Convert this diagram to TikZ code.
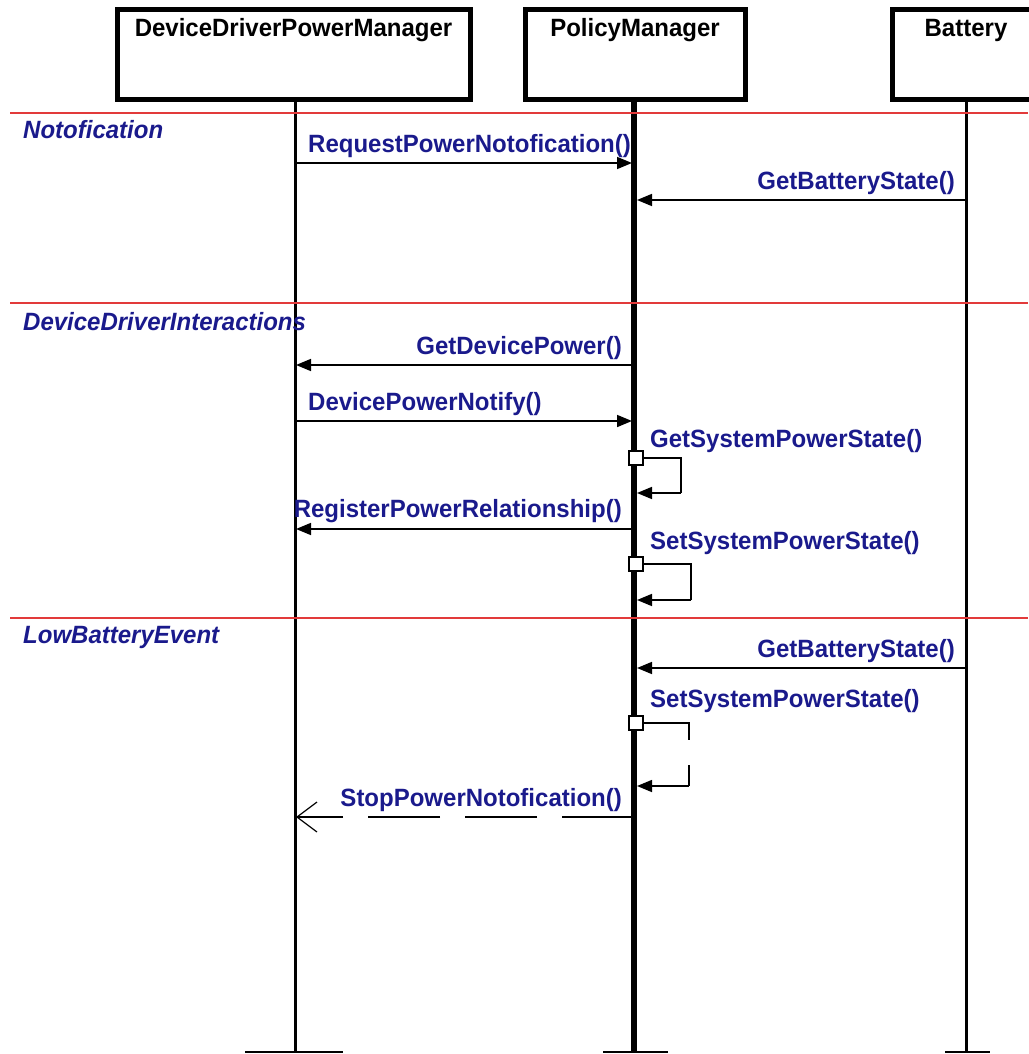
\documentclass[tikz,border=0pt]{standalone}
\usepackage{fontspec}
\setmainfont{Liberation Sans}[FakeStretch=0.96]
\usetikzlibrary{arrows.meta}
\definecolor{msgblue}{HTML}{1A1A8C}
\definecolor{seprule}{HTML}{E23A3A}
\tikzset{
  every picture/.style={x=1pt,y=-1pt},
  objbox/.style={draw=black,line width=5pt,fill=white},
  objname/.style={font=\fontsize{25}{27}\selectfont\bfseries,text=black,anchor=base,inner sep=0pt},
  lifeline/.style={line width=3pt,draw=black},
  lifelinethick/.style={line width=6pt,draw=black},
  footbar/.style={line width=2pt,draw=black},
  sepline/.style={line width=1.5pt,draw=seprule},
  seclabel/.style={font=\fontsize{25}{27}\selectfont\bfseries\itshape,text=msgblue,anchor=base west,inner sep=0pt},
  msglabel/.style={font=\fontsize{25}{27}\selectfont\bfseries,text=msgblue,inner sep=0pt},
  call/.style={line width=1.6pt,draw=black,-{Triangle[length=15pt,width=12pt]}},
  reply/.style={line width=1.6pt,draw=black,dash pattern=on 72pt off 25pt,-{Straight Barb[length=20pt,width=30pt,line width=1.2pt]}},
  selfloop/.style={line width=1.6pt,draw=black},
  activation/.style={draw=black,line width=1.5pt,fill=white,minimum size=14pt,inner sep=0pt},
}
\begin{document}
\begin{tikzpicture}
\useasboundingbox (0,0) rectangle (1028,1054);

% object boxes
\draw[objbox] (117,10) rectangle (470,100);
\draw[objbox] (525,10) rectangle (745,100);
\draw[objbox] (892,10) rectangle (1060,100);
\node[objname] (ddpmname) at (293.5,37) {DeviceDriverPowerManager};
\node[objname] (pmname) at (635,37) {PolicyManager};
\node[objname] (batname) at (966,37) {Battery};

% lifelines
\coordinate (ddtop) at (295,102);
\coordinate (ddbot) at (295,1051);
\coordinate (pmtop) at (634,102);
\coordinate (pmbot) at (634,1051);
\coordinate (battop) at (966,102);
\coordinate (batbot) at (966,1051);
\draw[lifeline] (ddtop) -- (ddbot);
\draw[lifelinethick] (pmtop) -- (pmbot);
\draw[lifeline] (battop) -- (batbot);
\draw[footbar] (245,1052) -- (343,1052);
\draw[footbar] (603,1052) -- (668,1052);
\draw[footbar] (945,1052) -- (990,1052);

% section separators
\foreach \y/\nm in {113/s1,303/s2,618/s3}{
  \coordinate (\nm l) at (10,\y);
  \coordinate (\nm r) at (1028,\y);
  \draw[sepline] (\nm l) -- (\nm r);
}
\node[seclabel] (secA) at (23,139) {Notofication};
\node[seclabel] (secB) at (23,330) {DeviceDriverInteractions};
\node[seclabel] (secC) at (23,643) {LowBatteryEvent};

% --- Notofication
\coordinate (m1a) at (295,163); \coordinate (m1b) at (632,163);
\draw[call] (m1a) -- (m1b);
\node[msglabel,anchor=base west] (l1) at (308,152) {RequestPowerNotofication()};

\coordinate (m2a) at (966,200); \coordinate (m2b) at (637,200);
\draw[call] (m2a) -- (m2b);
\node[msglabel,anchor=base east] (l2) at (955,189) {GetBatteryState()};

% --- DeviceDriverInteractions
\coordinate (m3a) at (634,365); \coordinate (m3b) at (296,365);
\draw[call] (m3a) -- (m3b);
\node[msglabel,anchor=base east] (l3) at (622,354) {GetDevicePower()};

\coordinate (m4a) at (295,421); \coordinate (m4b) at (632,421);
\draw[call] (m4a) -- (m4b);
\node[msglabel,anchor=base west] (l4) at (308,410) {DevicePowerNotify()};

\node[activation] (act1) at (636,458) {};
\coordinate (m5c) at (681,458); \coordinate (m5d) at (681,493); \coordinate (m5e) at (637,493);
\draw[selfloop] (act1.east) -- (m5c) -- (m5d);
\draw[call] (m5d) -- (m5e);
\node[msglabel,anchor=base west] (l5) at (650,447) {GetSystemPowerState()};

\coordinate (m6a) at (634,529); \coordinate (m6b) at (296,529);
\draw[call] (m6a) -- (m6b);
\node[msglabel,anchor=base east] (l6) at (622,517) {RegisterPowerRelationship()};

\node[activation] (act2) at (636,564) {};
\coordinate (m7c) at (691,564); \coordinate (m7d) at (691,600); \coordinate (m7e) at (637,600);
\draw[selfloop] (act2.east) -- (m7c) -- (m7d);
\draw[call] (m7d) -- (m7e);
\node[msglabel,anchor=base west] (l7) at (650,549) {SetSystemPowerState()};

% --- LowBatteryEvent
\coordinate (m8a) at (966,668); \coordinate (m8b) at (637,668);
\draw[call] (m8a) -- (m8b);
\node[msglabel,anchor=base east] (l8) at (955,657) {GetBatteryState()};

\node[activation] (act3) at (636,723) {};
\coordinate (m9c) at (689,723); \coordinate (m9d) at (689,740);
\coordinate (m9f) at (689,765); \coordinate (m9g) at (689,786); \coordinate (m9e) at (637,786);
\draw[selfloop] (act3.east) -- (m9c) -- (m9d);
\draw[selfloop] (m9f) -- (m9g);
\draw[call] (m9g) -- (m9e);
\node[msglabel,anchor=base west] (l9) at (650,707) {SetSystemPowerState()};

\coordinate (m10a) at (634,817); \coordinate (m10b) at (296,817);
\draw[reply] (m10a) -- (m10b);
\node[msglabel,anchor=base east] (l10) at (622,806) {StopPowerNotofication()};
\end{tikzpicture}
\end{document}
